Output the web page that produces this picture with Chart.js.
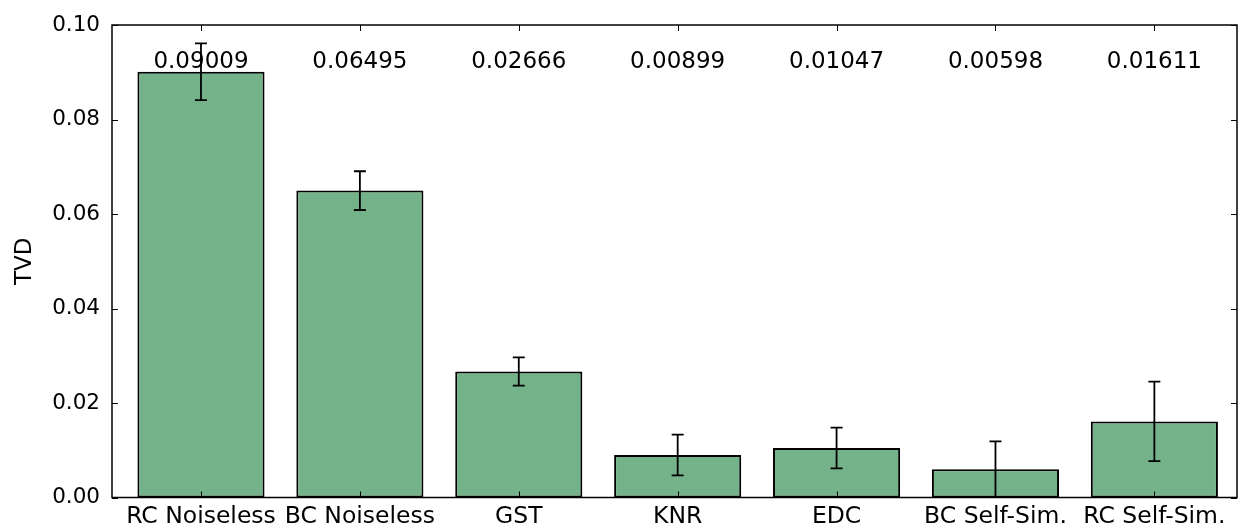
<!DOCTYPE html>
<html>
<head>
<meta charset="utf-8">
<script src="https://cdn.jsdelivr.net/npm/chart.js@4.4.1/dist/chart.umd.min.js"></script>
<style>
  html, body { margin: 0; padding: 0; background: #fff; overflow: hidden; }
  #wrap { width: 1238px; height: 529px; }
</style>
</head>
<body>
<div id="wrap"><canvas id="tvd-chart"></canvas></div>
<script>
const methods = ['RC Noiseless', 'BC Noiseless', 'GST', 'KNR', 'EDC', 'BC Self-Sim.', 'RC Self-Sim.'];
const tvdValues = [0.09009, 0.06495, 0.02666, 0.00899, 0.01047, 0.00598, 0.01611];
const tvdErrors = [0.0060, 0.0041, 0.0030, 0.0043, 0.0043, 0.0059, 0.0084];
const yTicks = [0, 0.02, 0.04, 0.06, 0.08, 0.10];
const labelLevel = 0.091; // value labels sit on this line

const FONT = 'DejaVu Sans';

// error bars, inward tick marks, frame and value labels
const extras = {
    id: 'extras',
    afterDatasetsDraw(chart) {
        const { ctx, chartArea: a, scales: { x, y } } = chart;
        ctx.save();

        // error bars
        ctx.strokeStyle = '#000';
        ctx.lineWidth = 1.8;
        tvdValues.forEach((v, i) => {
            const px = x.getPixelForValue(i);
            const top = y.getPixelForValue(v + tvdErrors[i]);
            const bot = y.getPixelForValue(v - tvdErrors[i]);
            ctx.beginPath();
            ctx.moveTo(px, top); ctx.lineTo(px, bot);
            ctx.moveTo(px - 6, top); ctx.lineTo(px + 6, top);
            ctx.moveTo(px - 6, bot); ctx.lineTo(px + 6, bot);
            ctx.stroke();
        });

        // frame
        ctx.lineWidth = 1.5;
        ctx.strokeRect(a.left, a.top, a.right - a.left, a.bottom - a.top);

        // tick marks pointing inward
        ctx.lineWidth = 1;
        ctx.beginPath();
        yTicks.forEach(t => {
            const py = Math.round(y.getPixelForValue(t)) + 0.5;
            ctx.moveTo(a.left, py); ctx.lineTo(a.left + 6, py);
            ctx.moveTo(a.right, py); ctx.lineTo(a.right - 6, py);
        });
        methods.forEach((_, i) => {
            const px = Math.round(x.getPixelForValue(i)) + 0.5;
            ctx.moveTo(px, a.top); ctx.lineTo(px, a.top + 6);
            ctx.moveTo(px, a.bottom); ctx.lineTo(px, a.bottom - 6);
        });
        ctx.stroke();

        // value labels
        ctx.fillStyle = '#000';
        ctx.font = '23px "' + FONT + '"';
        ctx.textAlign = 'center';
        ctx.textBaseline = 'alphabetic';
        tvdValues.forEach((v, i) => {
            ctx.fillText(v.toFixed(5), x.getPixelForValue(i), y.getPixelForValue(labelLevel));
        });

        ctx.restore();
    }
};

const ctx = document.getElementById('tvd-chart').getContext('2d');

new Chart(ctx, {
    type: 'bar',
    data: {
        datasets: [{
            label: 'TVD',
            data: tvdValues.map((v, i) => ({ x: i, y: v })),
            backgroundColor: '#74b28a',
            borderColor: '#000',
            borderWidth: 2,
            borderSkipped: false,
            barPercentage: 0.8,
            categoryPercentage: 1.0
        }]
    },
    options: {
        responsive: true,
        maintainAspectRatio: false,
        animation: false,
        layout: { padding: { top: 25, right: 1, left: 0, bottom: 0 } },
        plugins: {
            legend: { display: false },
            tooltip: { enabled: false }
        },
        scales: {
            x: {
                type: 'linear',
                min: -0.56,
                max: 6.52,
                offset: false,
                grid: { display: false, drawTicks: false, offset: false },
                border: { display: false },
                afterBuildTicks: (scale) => {
                    scale.ticks = methods.map((_, i) => ({ value: i }));
                },
                afterFit: (scale) => { scale.height = 31.5; },
                ticks: {
                    autoSkip: false,
                    maxRotation: 0,
                    padding: 5,
                    color: '#000',
                    font: { family: FONT, size: 23.5 },
                    callback: (v) => methods[v]
                }
            },
            y: {
                min: 0,
                max: 0.10,
                grid: { display: false, drawTicks: false },
                border: { display: false },
                afterBuildTicks: (scale) => {
                    scale.ticks = yTicks.map(t => ({ value: t }));
                },
                afterFit: (scale) => { scale.width = 112; },
                title: {
                    display: true,
                    text: 'TVD',
                    color: '#000',
                    font: { family: FONT, size: 23 },
                    padding: { top: 11, bottom: 0 }
                },
                ticks: {
                    padding: 12,
                    color: '#000',
                    font: { family: FONT, size: 21.5 },
                    callback: (v) => v.toFixed(2)
                }
            }
        }
    },
    plugins: [extras]
});
</script>
</body>
</html>
